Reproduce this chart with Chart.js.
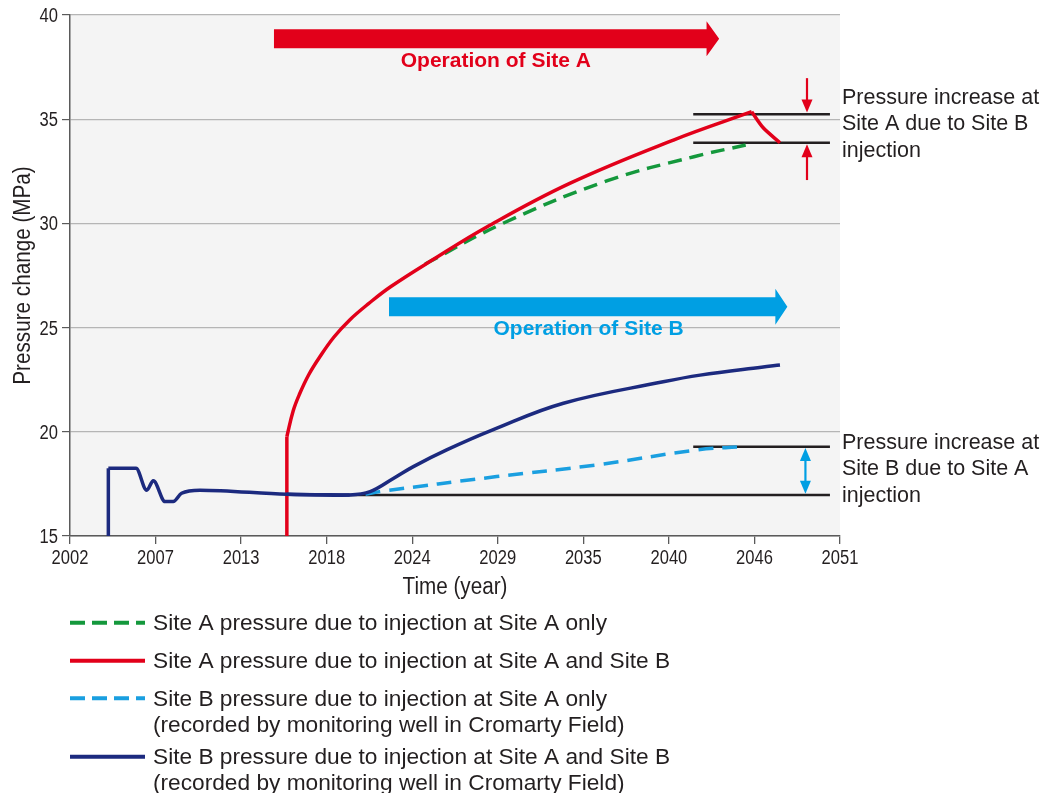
<!DOCTYPE html>
<html>
<head>
<meta charset="utf-8">
<style>
  html, body { margin: 0; padding: 0; background: #ffffff; }
  #wrap { width: 1047px; height: 793px; position: relative; }
  canvas { display: block; }
</style>
<script src="https://cdn.jsdelivr.net/npm/chart.js@4.4.1/dist/chart.umd.min.js"></script>
</head>
<body>
<div id="wrap"><canvas id="chart" width="1047" height="793"></canvas></div>
<script>
// ---------- data ----------
const xTickLabels = ['2002', '2007', '2013', '2018', '2024', '2029', '2035', '2040', '2046', '2051'];
const xMin = 2002, xMax = 2051;
const yMin = 15, yMax = 40, yStep = 5;
const xTitle = 'Time (year)';
const yTitle = 'Pressure change (MPa)';

const siteAOnlyYears  = [2024.6, 2029.6, 2036.2, 2041.7, 2045.0];
const siteAOnlyValues = [28.05, 30.02, 32.05, 33.2, 33.76];

const siteABothYears  = [2015.8, 2015.8, 2016.2, 2016.6, 2017.2, 2017.9, 2018.8, 2019.8, 2021.0, 2022.4, 2025.05, 2028.55, 2033.8, 2040.4, 2045.38, 2046.1, 2047.18];
const siteABothValues = [15, 19.77, 21.0, 21.8, 22.75, 23.6, 24.55, 25.37, 26.15, 26.96, 28.24, 29.84, 31.92, 34.0, 35.36, 34.6, 33.87];
const siteAPeakIndex = 14;

const siteBOnlyYears  = [2020.8, 2021.7, 2029.15, 2035.5, 2041.9, 2044.74];
const siteBOnlyValues = [17.0, 17.13, 17.85, 18.41, 19.13, 19.28];

const siteBBothYears  = [2004.44, 2004.44, 2006.2, 2006.88, 2007.3, 2008.05, 2008.57, 2009.1, 2010.27, 2015.8, 2019.8, 2021.1, 2022.6, 2023.85, 2025.97, 2028.9, 2033.4, 2039.75, 2042.1, 2046.0, 2047.18];
const siteBBothValues = [15, 18.25, 18.25, 17.2, 17.65, 16.65, 16.65, 17.05, 17.2, 17.0, 16.97, 17.13, 17.77, 18.33, 19.13, 20.09, 21.37, 22.4, 22.72, 23.1, 23.2];
const siteBRiseIndex = 10; // point where the slow decline turns into the rise

// reference (black) lines showing the pressure increases
const refLevels = [35.24, 33.87, 19.28, 16.97];
const refStarts = [2041.66, 2041.66, 2041.66, 2019.8];
const refEnds   = [2050.36, 2050.36, 2050.36, 2050.36];

const legendLabels = [
  ['Site A pressure due to injection at Site A only'],
  ['Site A pressure due to injection at Site A and Site B'],
  ['Site B pressure due to injection at Site A only', '(recorded by monitoring well in Cromarty Field)'],
  ['Site B pressure due to injection at Site A and Site B', '(recorded by monitoring well in Cromarty Field)']
];
const noteA = ['Pressure increase at', 'Site A due to Site B', 'injection'];
const noteB = ['Pressure increase at', 'Site B due to Site A', 'injection'];
const operationLabels = ['Operation of Site A', 'Operation of Site B'];

// ---------- styles ----------
const REGULAR = "'Liberation Sans', Arial, sans-serif";
const TEXT = '#231f20';
const C_GREEN = '#14983c';
const C_RED = '#e2001a';
const C_LBLUE = '#1a9fe0';
const C_NAVY = '#1c2a7f';
const C_ARROW_BLUE = '#009fe3';
const CONDENSE = 0.85;      // horizontal squeeze for the condensed axis lettering
const TITLE_CONDENSE = 0.88;

function xy(years, values) { return years.map((x, i) => ({ x: x, y: values[i] })); }

const lineBase = { pointRadius: 0, pointHoverRadius: 0, fill: false, borderWidth: 3.5, borderCapStyle: 'butt', borderJoinStyle: 'round' };

const datasets = [];
refLevels.forEach((lv, i) => {
  datasets.push(Object.assign({}, lineBase, {
    label: 'ref' + i, data: [{ x: refStarts[i], y: lv }, { x: refEnds[i], y: lv }],
    borderColor: TEXT, borderWidth: 2.6, tension: 0, order: 10
  }));
});
const aBoth = xy(siteABothYears, siteABothValues);
const bBoth = xy(siteBBothYears, siteBBothValues);
datasets.push(Object.assign({}, lineBase, { label: 'siteAOnly', data: xy(siteAOnlyYears, siteAOnlyValues), borderColor: C_GREEN, borderDash: [14, 8], tension: 0.4, order: 5 }));
datasets.push(Object.assign({}, lineBase, { label: 'siteABoth', data: aBoth.slice(1, siteAPeakIndex + 1), borderColor: C_RED, tension: 0.4, order: 4 }));
datasets.push(Object.assign({}, lineBase, { label: 'siteABothStem', data: aBoth.slice(0, 2), borderColor: C_RED, tension: 0, order: 4 }));
datasets.push(Object.assign({}, lineBase, { label: 'siteABothDrop', data: aBoth.slice(siteAPeakIndex), borderColor: C_RED, tension: 0.3, order: 4 }));
datasets.push(Object.assign({}, lineBase, { label: 'siteBOnly', data: xy(siteBOnlyYears, siteBOnlyValues), borderColor: C_LBLUE, borderDash: [15, 9], tension: 0.4, order: 6 }));
datasets.push(Object.assign({}, lineBase, { label: 'siteBBothEarly', data: bBoth.slice(1, siteBRiseIndex + 1), borderColor: C_NAVY, cubicInterpolationMode: 'monotone', order: 3 }));
datasets.push(Object.assign({}, lineBase, { label: 'siteBBothRise', data: bBoth.slice(siteBRiseIndex - 1), borderColor: C_NAVY, tension: 0.4, order: 3 }));
datasets.push(Object.assign({}, lineBase, { label: 'siteBBothStem', data: bBoth.slice(0, 2), borderColor: C_NAVY, tension: 0, order: 3 }));

const legendItems = [
  { color: C_GREEN, dash: [15, 7], lines: legendLabels[0] },
  { color: C_RED, dash: [], lines: legendLabels[1] },
  { color: C_LBLUE, dash: [15, 7], lines: legendLabels[2] },
  { color: C_NAVY, dash: [], lines: legendLabels[3] }
];

// ---------- plugins ----------
const plotBackground = {
  id: 'plotBackground',
  beforeDraw(chart) {
    const { ctx, chartArea: a } = chart;
    ctx.save();
    ctx.fillStyle = '#f4f4f4';
    ctx.fillRect(a.left, a.top, a.right - a.left, a.bottom - a.top);
    ctx.restore();
  }
};

function squeezedText(ctx, text, x, y, k, align, rot) {
  ctx.save();
  ctx.translate(x, y);
  if (rot) ctx.rotate(rot);
  ctx.scale(k, 1);
  ctx.textAlign = align;
  ctx.fillText(text, 0, 0);
  ctx.restore();
}

// axis tick labels and titles in condensed lettering, placed from the scales' own ticks
const axisText = {
  id: 'axisText',
  afterDraw(chart) {
    const { ctx, chartArea: a } = chart;
    const xs = chart.scales.x, ys = chart.scales.y;
    ctx.save();
    ctx.fillStyle = TEXT;
    ctx.textBaseline = 'alphabetic';
    ctx.font = '19.5px ' + REGULAR;
    xs.ticks.forEach((t, i) => {
      squeezedText(ctx, xTickLabels[i], xs.getPixelForTick(i), a.bottom + 28, CONDENSE, 'center');
    });
    ys.ticks.forEach((t, i) => {
      squeezedText(ctx, String(t.value), a.left - 12, ys.getPixelForTick(i) + 7, CONDENSE, 'right');
    });
    ctx.font = '23.5px ' + REGULAR;
    squeezedText(ctx, xTitle, (a.left + a.right) / 2, a.bottom + 57.5, TITLE_CONDENSE, 'center');
    squeezedText(ctx, yTitle, 29.5, (a.top + a.bottom) / 2, TITLE_CONDENSE, 'center', -Math.PI / 2);
    ctx.restore();
  }
};

function hArrow(ctx, x0, x1, yc, shaftH, headH, headL, color) {
  ctx.fillStyle = color;
  ctx.beginPath();
  ctx.moveTo(x0, yc - shaftH / 2);
  ctx.lineTo(x1 - headL, yc - shaftH / 2);
  ctx.lineTo(x1 - headL, yc - headH / 2);
  ctx.lineTo(x1, yc);
  ctx.lineTo(x1 - headL, yc + headH / 2);
  ctx.lineTo(x1 - headL, yc + shaftH / 2);
  ctx.lineTo(x0, yc + shaftH / 2);
  ctx.closePath();
  ctx.fill();
}
function vHead(ctx, x, yTip, dir, w, l) {
  ctx.beginPath();
  ctx.moveTo(x, yTip);
  ctx.lineTo(x - w / 2, yTip - dir * l);
  ctx.lineTo(x + w / 2, yTip - dir * l);
  ctx.closePath();
  ctx.fill();
}
function vArrow(ctx, x, yTail, yTip, color, doubleHead) {
  const dir = yTip > yTail ? 1 : -1;
  const l = 13, w = 11;
  ctx.strokeStyle = color; ctx.fillStyle = color; ctx.lineWidth = 2.2;
  ctx.beginPath();
  ctx.moveTo(x, doubleHead ? yTail + dir * l * 0.9 : yTail);
  ctx.lineTo(x, yTip - dir * l * 0.9);
  ctx.stroke();
  vHead(ctx, x, yTip, dir, w, l);
  if (doubleHead) vHead(ctx, x, yTail, -dir, w, l);
}

const annotations = {
  id: 'annotations',
  afterDraw(chart) {
    const { ctx } = chart;
    const xs = chart.scales.x, ys = chart.scales.y;
    const px = v => xs.getPixelForValue(v), py = v => ys.getPixelForValue(v);
    ctx.save();
    hArrow(ctx, px(2014.98), px(2043.31), py(38.86), 19, 35, 12.6, C_RED);
    hArrow(ctx, px(2022.3), px(2047.65), py(26.0), 19, 36, 12, C_ARROW_BLUE);
    ctx.font = "bold 21px " + REGULAR;
    ctx.textAlign = 'center'; ctx.textBaseline = 'alphabetic';
    ctx.fillStyle = C_RED;
    ctx.fillText(operationLabels[0], px(2029.1), py(37.52));
    ctx.fillStyle = C_ARROW_BLUE;
    ctx.fillText(operationLabels[1], px(2035.0), py(24.65));
    vArrow(ctx, px(2048.9), py(36.97), py(35.32), C_RED, false);
    vArrow(ctx, px(2048.9), py(32.08), py(33.8), C_RED, false);
    vArrow(ctx, px(2048.8), py(17.03), py(19.22), C_ARROW_BLUE, true);
    ctx.font = "21.5px " + REGULAR;
    ctx.fillStyle = TEXT; ctx.textAlign = 'left'; ctx.textBaseline = 'middle';
    const nx = chart.chartArea.right + 2;
    noteA.forEach((t, i) => ctx.fillText(t, nx, py(36.02) + i * 26.5));
    noteB.forEach((t, i) => ctx.fillText(t, nx, py(19.46) + i * 26.5));
    const lx0 = 70, lx1 = 145, tx = 153;
    const rowY = [622.7, 660.7, 698.3, 756.7];
    ctx.font = "22.7px " + REGULAR;
    legendItems.forEach((it, i) => {
      ctx.strokeStyle = it.color; ctx.lineWidth = 4; ctx.setLineDash(it.dash); ctx.lineCap = 'butt';
      ctx.beginPath(); ctx.moveTo(lx0, rowY[i]); ctx.lineTo(lx1, rowY[i]); ctx.stroke();
      ctx.setLineDash([]);
      ctx.fillStyle = TEXT;
      it.lines.forEach((t, j) => ctx.fillText(t, tx, rowY[i] + 1 + j * 26.5));
    });
    ctx.restore();
  }
};

// ---------- chart ----------
new Chart(document.getElementById('chart'), {
  type: 'line',
  data: { datasets: datasets },
  options: {
    responsive: false,
    animation: false,
    devicePixelRatio: 1,
    layout: { padding: { left: 0, top: 15, right: 207, bottom: 193 } },
    plugins: { legend: { display: false }, tooltip: { enabled: false } },
    scales: {
      x: {
        type: 'linear', min: xMin, max: xMax,
        afterBuildTicks: s => { s.ticks = xTickLabels.map((_, i) => ({ value: xMin + i * (xMax - xMin) / (xTickLabels.length - 1) })); },
        afterFit: s => { s.height = 64; },
        ticks: { display: false, autoSkip: false },
        grid: { drawOnChartArea: false, drawTicks: true, tickLength: 8, tickColor: '#5a5a5a', lineWidth: 1.3 },
        border: { color: '#5a5a5a', width: 1.5 },
        title: { display: false }
      },
      y: {
        type: 'linear', min: yMin, max: yMax,
        afterFit: s => { s.width = 70; },
        ticks: { display: false, stepSize: yStep },
        grid: { color: '#b5b5b5', lineWidth: 1.2, tickLength: 8, tickColor: '#5a5a5a' },
        border: { color: '#5a5a5a', width: 1.5 },
        title: { display: false }
      }
    }
  },
  plugins: [plotBackground, axisText, annotations]
});
</script>
</body>
</html>
